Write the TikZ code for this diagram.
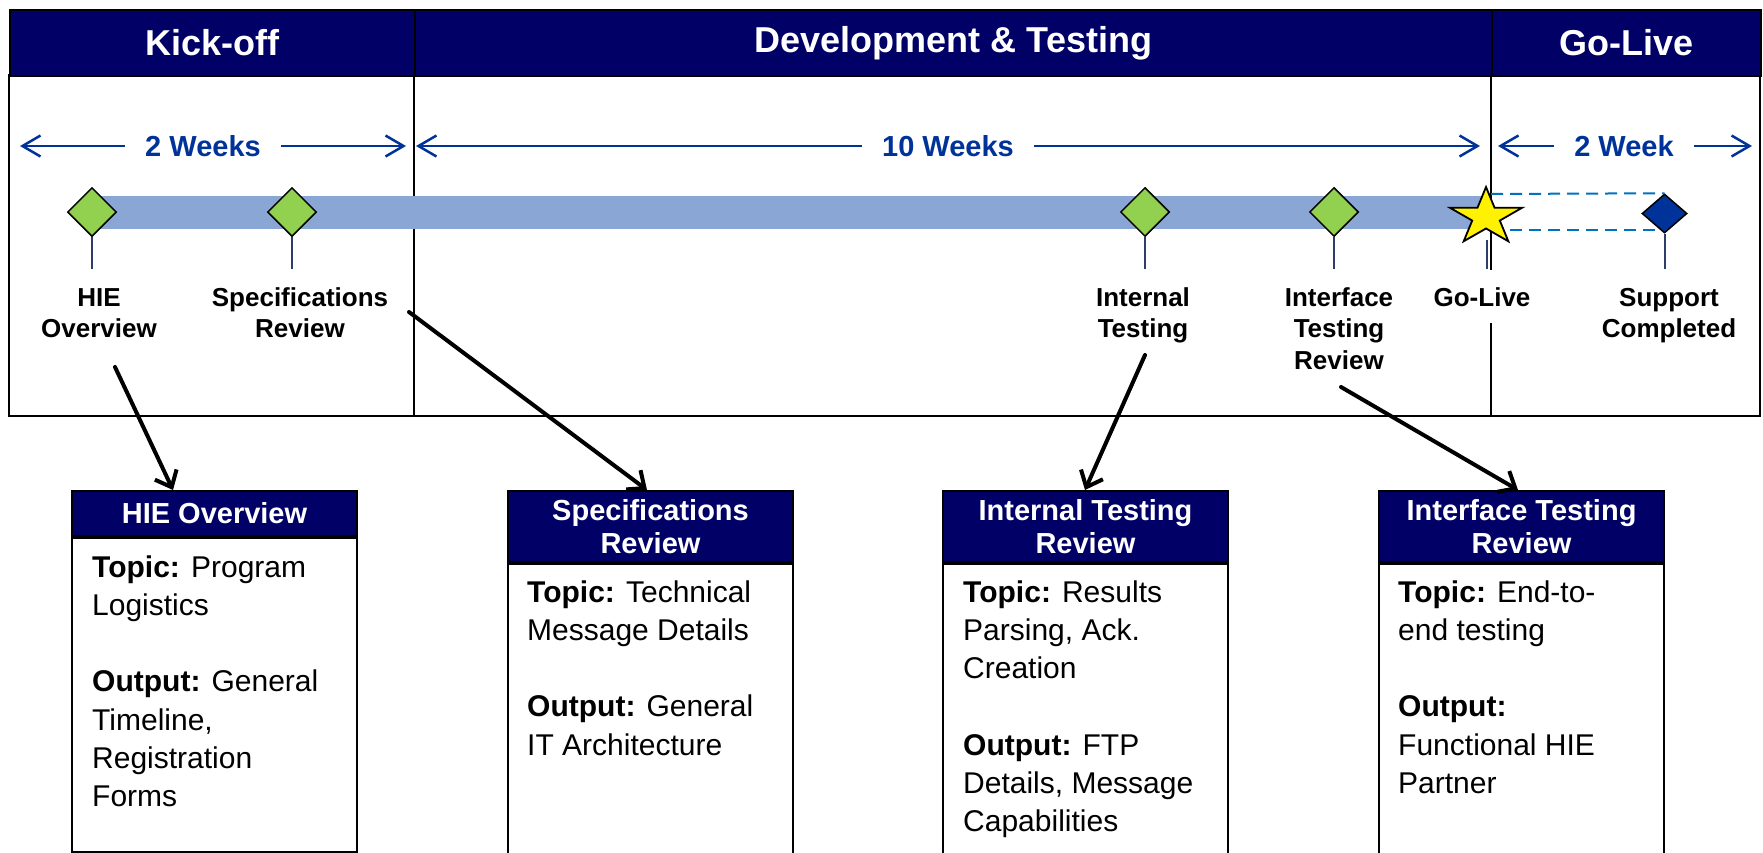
\documentclass[tikz,border=0pt]{standalone}
\usepackage{fontspec}
\setmainfont{Liberation Sans}
\usetikzlibrary{shapes.geometric,arrows.meta,calc}

\definecolor{hdrnavy}{RGB}{0,0,102}
\definecolor{durblue}{RGB}{0,51,153}
\definecolor{barblue}{RGB}{138,166,212}
\definecolor{msgreen}{RGB}{146,208,80}
\definecolor{endnavy}{RGB}{0,51,153}
\definecolor{dashblue}{RGB}{0,112,192}
\definecolor{stemblue}{RGB}{47,62,105}

\newcommand\fsz[2]{\fontsize{#1}{#2}\selectfont}

\begin{document}
\begin{tikzpicture}[x=1pt,y=-1pt,
  phasecell/.style={draw=black, line width=2pt, fill=hdrnavy, text=white,
    font=\fsz{36}{40}\bfseries, minimum height=66pt, inner sep=0pt, anchor=north west},
  outerframe/.style={draw=black, line width=2.5pt},
  divider/.style={draw=black, line width=2pt},
  durarrow/.style={durblue, line width=2.5pt,
    {Straight Barb[length=18pt,width=21pt]}-{Straight Barb[length=18pt,width=21pt]}},
  durlabel/.style={fill=white, text=durblue, font=\fsz{29}{32}\bfseries,
    inner xsep=20pt, inner ysep=2pt},
  milestone/.style={diamond, draw=black, line width=1.5pt, fill=msgreen,
    minimum width=49pt, minimum height=49pt, inner sep=0pt},
  endmark/.style={diamond, draw=black, line width=1.5pt, fill=endnavy,
    minimum width=45pt, minimum height=39pt, inner sep=0pt},
  stemline/.style={stemblue, line width=2pt},
  dashline/.style={dashblue, line width=2pt, dash pattern=on 12pt off 7pt},
  % multi-line labels are anchored at the baseline of their last line
  mlabel/.style={align=center, font=\fsz{26}{31.5}\bfseries, inner sep=0pt, anchor=base},
  callout/.style={black, line width=4pt, line cap=round,
    -{Straight Barb[length=14pt,width=24pt]}},
  boxhead/.style={draw=black, line width=2pt, fill=hdrnavy, text=white,
    font=\fsz{29}{33}\bfseries, align=center, minimum width=285pt,
    inner sep=0pt, anchor=north west},
  boxbody/.style={draw=black, line width=2pt, minimum width=285pt,
    inner sep=0pt, anchor=north west},
  boxtext/.style={align=left, font=\fsz{30}{38.3}, inner sep=0pt, anchor=base west}
]
\useasboundingbox (0,0) rectangle (1763,852);
\clip (0,0) rectangle (1763,852);

% ---- phase frame ----
\draw[outerframe] (9,75) rectangle (1760,416);
\draw[divider] (414,75) -- (414,416);
\draw[divider] (1491,75) -- (1491,416);
\node[phasecell, minimum width=405pt]  (kick) at (9,9)    {Kick-off};
\node[phasecell, minimum width=1077pt] (dev)  at (414,9)  {Development \& Testing};
\node[phasecell, minimum width=269pt]  (live) at (1491,9) {Go-Live};

% ---- durations ----
\coordinate (w1l) at (20,146);   \coordinate (w1r) at (406,146);
\coordinate (w2l) at (416,146);  \coordinate (w2r) at (1480,146);
\coordinate (w3l) at (1498,146); \coordinate (w3r) at (1752,146);
\draw[durarrow] (w1l) -- (w1r);
\draw[durarrow] (w2l) -- (w2r);
\draw[durarrow] (w3l) -- (w3r);
\node[durlabel] (t1) at (203,146)  {2 Weeks};
\node[durlabel] (t2) at (948,146)  {10 Weeks};
\node[durlabel] (t3) at (1624,146) {2 Week};

% ---- timeline bar and support window ----
\fill[barblue] (92,196) rectangle (1486,229);
\coordinate (dtl) at (1491,194);
\coordinate (dbl) at (1491,230);
\coordinate (dbr) at (1660,230);

% ---- milestones ----
\node[milestone] (m1) at (92,212)   {};
\node[milestone] (m2) at (292,212)  {};
\node[milestone] (m3) at (1145,212) {};
\node[milestone] (m4) at (1334,212) {};
\node[endmark]   (m6) at (1664.5,213.5) {};
\draw[dashline] (dtl) -- (m6.north);
\draw[dashline] (dbl) -- (dbr);

\coordinate (s1) at (92,269);
\coordinate (s2) at (292,269);
\coordinate (s3) at (1145,269);
\coordinate (s4) at (1334,269);
\coordinate (s5) at (1487,269);
\coordinate (s6) at (1664.5,269);
\coordinate (m5) at (1486,217);
\draw[stemline] (m1.south) -- (s1);
\draw[stemline] (m2.south) -- (s2);
\draw[stemline] (m3.south) -- (s3);
\draw[stemline] (m4.south) -- (s4);
\draw[stemline] (1487,240) -- (s5);
\draw[stemline] (m6.south) -- (s6);

% go-live star
\draw[black, line width=1.8pt, fill=yellow, line join=miter, shift={(m5)}]
  (270:38 and 30) -- (306:14.5 and 11.5) -- (342:38 and 30) -- (18:14.5 and 11.5)
  -- (54:38 and 30) -- (90:14.5 and 11.5) -- (126:38 and 30) -- (162:14.5 and 11.5)
  -- (198:38 and 30) -- (234:14.5 and 11.5) -- cycle;

% ---- milestone labels ----
\node[mlabel] (l1) at (99,337.5)   {HIE\\Overview};
\node[mlabel] (l2) at (300,337.5)  {Specifications\\Review};
\node[mlabel] (l3) at (1143,337.5) {Internal\\Testing};
\node[mlabel] (l4) at (1339,369)   {Interface\\Testing\\Review};
\node[mlabel, fill=white, inner xsep=4pt, inner ysep=17pt] (l5) at (1482,306) {Go-Live};
\node[mlabel] (l6) at (1669,337.5) {Support\\Completed};

% ---- detail boxes ----
\node[boxhead, minimum height=45pt] (h1) at (71,490)  {HIE Overview};
\node[boxhead, minimum height=71pt] (h2) at (507,490) {Specifications\\Review};
\node[boxhead, minimum height=71pt] (h3) at (942,490) {Internal Testing\\Review};
\node[boxhead, minimum height=71pt] (h4) at (1378,490) {Interface Testing\\Review};

\node[boxbody, minimum height=314pt] (b1) at (h1.south west) {};
\node[boxbody, minimum height=330pt] (b2) at (h2.south west) {};
\node[boxbody, minimum height=330pt] (b3) at (h3.south west) {};
\node[boxbody, minimum height=330pt] (b4) at (h4.south west) {};

\node[boxtext] (x1) at (92,806.8)
  {\textbf{Topic:} Program\\Logistics\\[38.3pt]\textbf{Output:} General\\Timeline,\\Registration\\Forms};
\node[boxtext] (x2) at (527,755.2)
  {\textbf{Topic:} Technical\\Message Details\\[38.3pt]\textbf{Output:} General\\IT Architecture};
\node[boxtext] (x3) at (963,831.8)
  {\textbf{Topic:} Results\\Parsing, Ack.\\Creation\\[38.3pt]\textbf{Output:} FTP\\Details, Message\\Capabilities};
\node[boxtext] (x4) at (1398,793.5)
  {\textbf{Topic:} End-to-\\end testing\\[38.3pt]\textbf{Output:}\\Functional HIE\\Partner};

% ---- callouts ----
\coordinate (c1) at (115,367);  \coordinate (e1) at (173,490);
\coordinate (c2) at (409,312);  \coordinate (e2) at (647,490);
\coordinate (c3) at (1145,355); \coordinate (e3) at (1085,490);
\coordinate (c4) at (1341,387); \coordinate (e4) at (1518,490);
\draw[callout] (c1) -- (e1);
\draw[callout] (c2) -- (e2);
\draw[callout] (c3) -- (e3);
\draw[callout] (c4) -- (e4);
\end{tikzpicture}
\end{document}
